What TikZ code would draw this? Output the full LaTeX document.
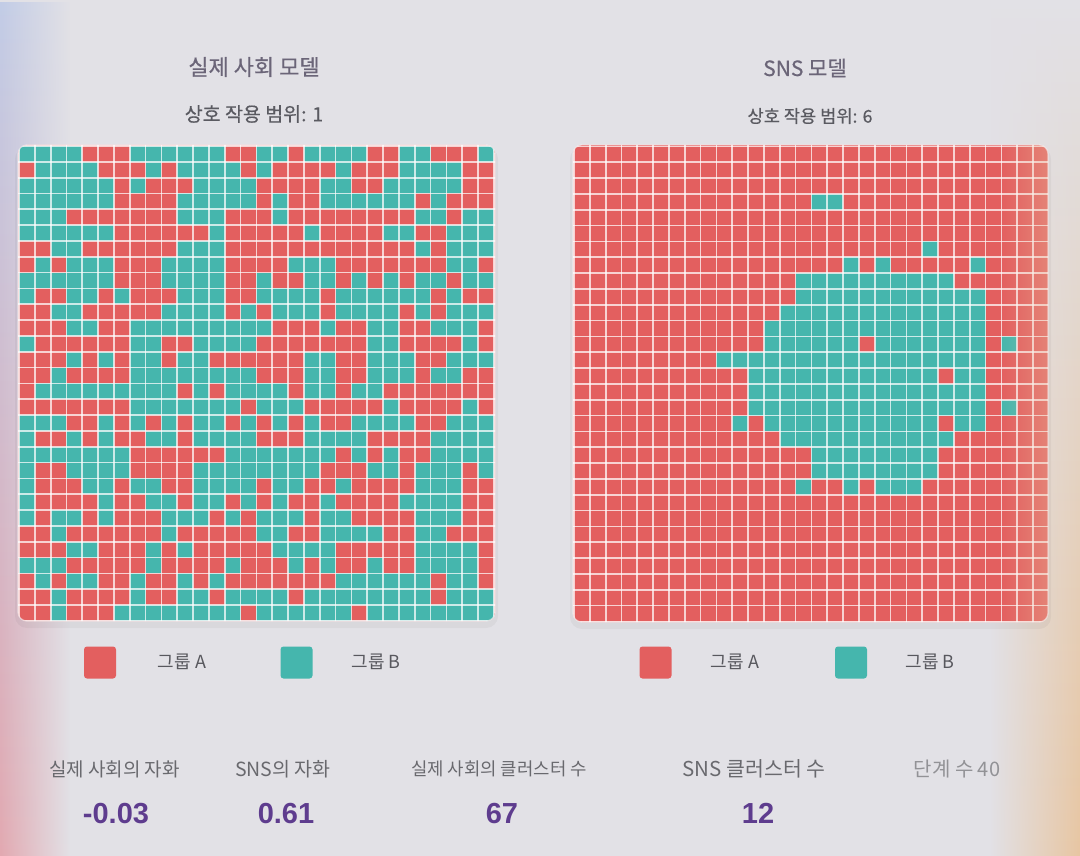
\documentclass[tikz,border=0pt]{standalone}
\usepackage{fontspec}
\setmainfont{Liberation Sans}
\newfontfamily\kr{Noto Sans CJK KR}
\newfontfamily\krsemi[FakeBold=0.5]{Noto Sans CJK KR}
\usetikzlibrary{fadings}

\definecolor{grpA}{HTML}{E35F5F}
\definecolor{grpB}{HTML}{45B6AD}
\definecolor{bgc}{HTML}{E2E1E6}
\definecolor{bgblue}{HTML}{C2CCE6}
\definecolor{bgpink}{HTML}{E2A9B1}
\definecolor{bgsand}{HTML}{E8C6A2}
\definecolor{titlec}{HTML}{6B6578}
\definecolor{subc}{HTML}{5A5A61}
\definecolor{textc}{HTML}{58585E}
\definecolor{valc}{HTML}{5E3C8E}

\newcommand\cellsz{15.83}

\tikzset{
    modeltitle/.style={
    inner sep=0pt,text=titlec,font=\krsemi\fontsize{#1}{25pt}\selectfont
    },
    modeltitle/.default=22pt,
    rangetext/.style={
    inner sep=0pt,text=subc,font=\krsemi\fontsize{#1}{22pt}\selectfont
    },
    legendbox/.style={
    rectangle,rounded corners=3pt,minimum size=32pt,inner sep=0pt
    },
    legendtext/.style={
    inner sep=0pt,text=textc,font=\kr\fontsize{18pt}{20pt}\selectfont
    },
    statlabel/.style={
    inner sep=0pt,text=textc!90,font=\kr\fontsize{#1}{22pt}\selectfont
    },
    statlabel/.default=18pt,
    statval/.style={
    inner sep=0pt,anchor=base,text=valc,font=\bfseries\fontsize{29pt}{32pt}\selectfont
    },
    gapline/.style={
    draw=white,opacity=0.72,line width=1.7pt
    },
    gridframe/.style={
    rounded corners=9pt
    },
}

\begin{document}
\begin{tikzpicture}[x=1pt,y=-1pt]
  \useasboundingbox (0,0) rectangle (1080,856);
  % background
  \fill[bgc] (0,0) rectangle (1080,856);
  \shade[top color=bgblue, middle color=bgc, bottom color=bgpink, path fading=east] (0,0) rectangle (70,856);
  \shade[top color=bgc, bottom color=bgsand, path fading=west] (990,0) rectangle (1080,856);

  % shadows
  \fill[black,opacity=0.04,rounded corners=12pt] (15,147) rectangle (498,628);
  \fill[black,opacity=0.04,rounded corners=12pt] (570,147) rectangle (1051,629);

  % real society grid
  \fill[grpA,gridframe] (18,145) rectangle (495,621);
  \begin{scope}
    \clip[gridframe] (18,145) rectangle (495,621);
    \foreach \row [count=\r from 0] in {
      {1,1,1,1,0,0,0,1,1,1,1,1,1,0,0,1,1,0,1,1,1,1,0,0,1,1,0,0,0,1},
      {0,1,1,1,1,0,0,0,1,0,1,1,1,1,0,1,0,0,0,0,1,0,0,0,1,1,1,1,0,0},
      {1,1,1,1,1,1,0,1,0,0,0,1,1,1,1,0,0,0,0,1,1,0,0,1,1,1,1,1,0,0},
      {1,1,1,1,1,1,0,0,0,0,1,1,1,1,1,0,1,0,0,1,1,1,1,1,1,0,1,0,0,0},
      {1,1,1,0,0,0,0,0,0,0,1,1,1,0,0,0,1,0,0,0,0,0,0,0,0,1,1,0,1,1},
      {1,1,1,1,1,1,0,0,0,0,0,0,1,0,0,0,0,0,1,0,0,0,0,1,1,0,0,1,1,1},
      {0,0,1,1,0,0,0,0,0,0,1,1,1,0,0,0,0,0,0,0,0,0,0,0,0,1,0,1,1,1},
      {0,1,0,1,1,1,0,0,0,1,1,1,1,0,0,0,0,1,1,1,0,0,0,0,0,0,0,1,1,0},
      {1,1,1,1,1,1,0,0,0,1,1,1,1,0,0,1,0,0,1,1,0,1,0,1,0,1,1,0,1,1},
      {1,0,0,1,1,0,1,0,0,0,1,1,1,0,0,1,1,1,1,0,1,1,1,1,1,1,0,1,0,0},
      {0,0,1,1,0,0,0,0,0,1,1,1,1,0,1,0,1,1,1,0,1,1,1,1,0,1,0,1,1,1},
      {0,0,0,1,1,0,0,1,1,1,1,1,1,1,1,1,0,0,0,1,0,0,1,1,0,0,1,1,1,0},
      {1,0,0,0,0,0,0,1,1,0,0,1,1,1,1,0,0,0,0,0,0,0,1,1,0,0,0,0,1,0},
      {0,0,0,1,0,1,0,1,1,0,1,1,0,0,0,0,0,0,1,1,0,0,1,1,1,0,0,1,1,1},
      {0,0,1,0,0,0,0,1,1,1,1,1,1,1,1,0,0,0,1,1,0,0,1,1,1,0,1,1,0,0},
      {0,1,1,1,1,1,1,1,1,1,0,1,0,1,1,1,1,0,1,1,0,1,1,0,0,0,0,0,0,0},
      {0,0,0,0,0,0,0,1,1,1,1,1,1,1,0,1,1,1,0,0,0,0,0,1,0,0,0,0,1,0},
      {1,1,1,0,0,1,0,1,0,1,0,1,1,0,1,0,1,0,1,0,0,1,1,1,1,0,0,1,1,1},
      {1,0,0,1,0,1,0,0,1,1,0,1,1,1,1,0,0,0,1,1,1,1,0,0,0,0,1,1,1,1},
      {1,1,1,1,1,1,1,0,0,0,0,0,0,1,1,1,1,1,1,1,0,1,0,1,0,0,1,1,1,1},
      {1,0,0,1,1,1,1,0,0,0,0,1,1,1,1,1,1,1,1,0,0,0,1,1,0,1,1,1,0,1},
      {1,0,0,0,1,1,0,1,1,0,0,1,1,1,1,0,1,1,0,0,1,0,0,0,0,1,1,1,0,0},
      {1,0,0,0,0,1,0,0,1,1,0,1,1,0,1,0,1,0,0,1,0,0,0,0,1,1,1,1,0,0},
      {1,0,1,1,0,1,0,0,0,1,1,1,0,1,0,1,1,1,0,1,1,0,0,0,0,1,1,1,0,0},
      {0,0,1,0,0,0,0,0,0,1,0,0,0,0,0,1,1,0,0,1,1,1,1,0,0,1,1,0,0,0},
      {0,0,0,1,1,0,0,0,1,0,1,0,0,0,0,0,1,1,1,1,0,0,0,0,0,1,1,1,1,0},
      {1,1,1,0,0,0,0,0,1,0,0,0,0,1,0,0,0,1,0,1,0,0,1,0,0,1,1,1,1,0},
      {0,1,0,1,1,0,0,1,0,0,1,0,1,0,0,0,0,0,0,0,1,1,1,1,1,1,0,1,1,0},
      {0,0,1,0,0,0,0,1,0,0,1,1,0,1,1,1,1,0,1,1,1,1,1,1,1,1,0,1,1,1},
      {0,0,1,0,0,0,1,1,1,1,1,1,1,1,0,1,1,1,1,1,1,0,1,1,1,1,1,1,1,1}} {
      \foreach \v [count=\c from 0] in \row {
        \ifnum\v=1 \fill[grpB] (19+\c*\cellsz,146+\r*\cellsz) rectangle ++(\cellsz,\cellsz); \fi
      }
    }
    \foreach \i in {0,...,30} {
      \draw[gapline] (19+\i*\cellsz,140) -- ++(0,490);
      \draw[gapline] (10,146+\i*\cellsz) -- ++(495,0);
    }
  \end{scope}
  \draw[white,opacity=0.5,line width=1.2pt,gridframe] (18,145) rectangle (495,621);

  % SNS grid
  \fill[grpA,gridframe] (573,145) rectangle (1048,622);
  \begin{scope}
    \clip[gridframe] (573,145) rectangle (1048,622);
    \foreach \r/\a/\b in {3/15/16, 6/22/22, 7/17/17, 7/19/19, 7/25/25, 8/14/23,
        9/14/25, 10/13/25, 11/12/25, 12/12/17, 12/19/25, 12/27/27, 13/9/25,
        14/11/22, 14/24/25, 15/11/25, 16/11/25, 16/27/27, 17/10/10, 17/12/22,
        17/24/25, 18/13/23, 19/15/22, 20/15/22, 21/14/14, 21/17/17, 21/19/21}
      \fill[grpB] (574+\a*\cellsz,146.5+\r*\cellsz) rectangle (574+\b*\cellsz+\cellsz,146.5+\r*\cellsz+\cellsz);
    \foreach \i in {0,...,30} {
      \draw[gapline] (574+\i*\cellsz,140) -- ++(0,490);
      \draw[gapline] (565,146.5+\i*\cellsz) -- ++(495,0);
    }
    \shade[left color=bgsand, right color=bgsand, opacity=0.35, path fading=west] (1000,145) rectangle (1048,622);
  \end{scope}
  \draw[white,opacity=0.5,line width=1.2pt,gridframe] (573,145) rectangle (1048,622);

  % titles
  \node[modeltitle] (titleL) at (254,67) {실제 사회 모델};
  \node[rangetext=19.5pt] (rangeL) at (254,114) {상호 작용 범위: 1};
  \node[modeltitle=21pt] (titleR) at (805,68) {SNS 모델};
  \node[rangetext=17.6pt] (rangeR) at (810,116) {상호 작용 범위: 6};

  % legends
  \node[legendbox,fill=grpA] (keyAL) at (100,662.5) {};
  \node[legendtext] (txtAL) at (182,662) {그룹 A};
  \node[legendbox,fill=grpB] (keyBL) at (296.5,662.5) {};
  \node[legendtext] (txtBL) at (376,662) {그룹 B};
  \node[legendbox,fill=grpA] (keyAR) at (655.5,662.5) {};
  \node[legendtext] (txtAR) at (735,662) {그룹 A};
  \node[legendbox,fill=grpB] (keyBR) at (851,662.5) {};
  \node[legendtext] (txtBR) at (930,662) {그룹 B};

  % statistics
  \node[statlabel=19pt] (lblAutoL) at (114.5,769) {실제 사회의 자화};
  \node[statval] (valAutoL) at (116,823) {-0.03};
  \node[statlabel=19.5pt] (lblAutoR) at (283,769) {SNS의 자화};
  \node[statval] (valAutoR) at (286,823) {0.61};
  \node[statlabel=17.8pt] (lblClustL) at (499,769) {실제 사회의 클러스터 수};
  \node[statval] (valClustL) at (502,823) {67};
  \node[statlabel=20.5pt] (lblClustR) at (754,769) {SNS 클러스터 수};
  \node[statval] (valClustR) at (758,823) {12};
  \node[statlabel=20pt,text=textc!65] (lblStep) at (957,769) {단계 수 40};
\end{tikzpicture}
\end{document}
